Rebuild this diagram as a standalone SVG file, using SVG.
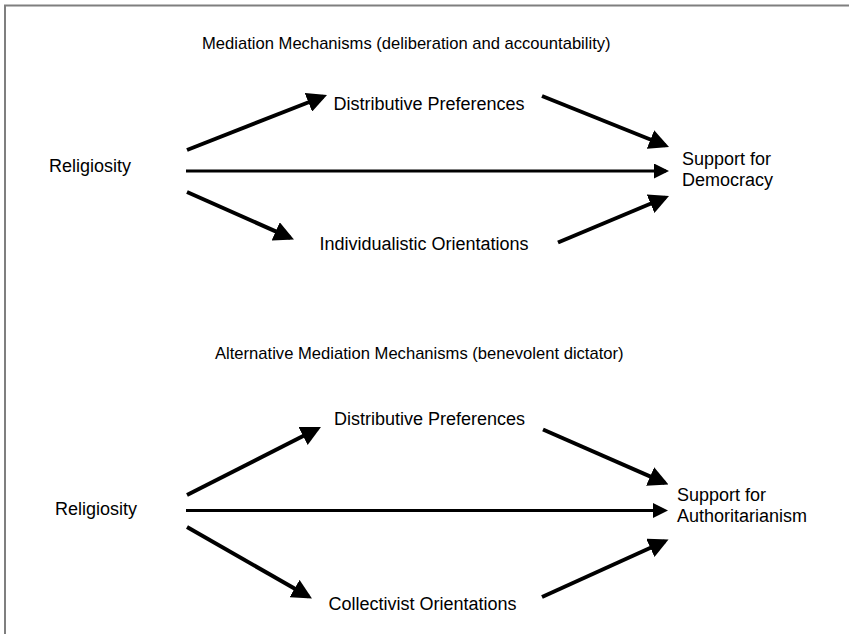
<svg xmlns="http://www.w3.org/2000/svg" width="849" height="634" viewBox="0 0 849 634">
  <style>
    .t { font-family: "Liberation Sans", Arial, sans-serif; fill: #000; }
    .title { font-size: 16.6px; }
    .node { font-size: 18px; }
    .thick { stroke: #000; stroke-width: 4; fill: none; marker-end: url(#ah); }
    .thin { stroke: #000; stroke-width: 3; fill: none; marker-end: url(#ah); }
    .frame { stroke: #7f7f7f; stroke-width: 2; fill: none; }
  </style>
  <defs>
    <marker id="ah" markerUnits="strokeWidth" markerWidth="5" markerHeight="5" refX="4" refY="2.5" orient="auto" viewBox="0 0 5 5">
      <path d="M0,0 L5,2.5 L0,5 z" fill="#000"/>
    </marker>
  </defs>
  <rect width="849" height="634" fill="#fff"/>
  <path class="frame" d="M5,634 V5.5 H849"/>

  <text class="t title" x="202" y="48.5">Mediation Mechanisms (deliberation and accountability)</text>
  <text class="t title" x="215" y="358.5">Alternative Mediation Mechanisms (benevolent dictator)</text>

  <g id="top-religiosity"><text class="t node" x="49" y="172">Religiosity</text></g>
  <g id="top-distributive"><text class="t node" x="333.5" y="110">Distributive Preferences</text></g>
  <g id="top-individualistic"><text class="t node" x="319.5" y="249.5">Individualistic Orientations</text></g>
  <g id="top-democracy"><text class="t node" x="682" y="164.5">Support for</text><text class="t node" x="682" y="186">Democracy</text></g>

  <g id="bottom-religiosity"><text class="t node" x="55" y="514.5">Religiosity</text></g>
  <g id="bottom-distributive"><text class="t node" x="334" y="424.5">Distributive Preferences</text></g>
  <g id="bottom-collectivist"><text class="t node" x="328.5" y="609.5">Collectivist Orientations</text></g>
  <g id="bottom-authoritarianism"><text class="t node" x="677" y="501">Support for</text><text class="t node" x="677" y="522">Authoritarianism</text></g>

  <g id="connectors">
    <line class="thick" x1="187" y1="150" x2="323.3" y2="96.5"/>
    <line class="thin" x1="186" y1="171" x2="666" y2="171"/>
    <line class="thick" x1="187" y1="192" x2="290.3" y2="237.9"/>
    <line class="thick" x1="542" y1="96" x2="665.3" y2="145.5"/>
    <line class="thick" x1="558" y1="242.5" x2="665.3" y2="197.5"/>

    <line class="thick" x1="187" y1="495" x2="317.4" y2="428.8"/>
    <line class="thin" x1="186" y1="510.5" x2="665" y2="510.5"/>
    <line class="thick" x1="187" y1="527" x2="308.5" y2="596.5"/>
    <line class="thick" x1="543" y1="429.5" x2="664.8" y2="482.9"/>
    <line class="thick" x1="542" y1="597" x2="664.9" y2="541.2"/>
  </g>
</svg>
